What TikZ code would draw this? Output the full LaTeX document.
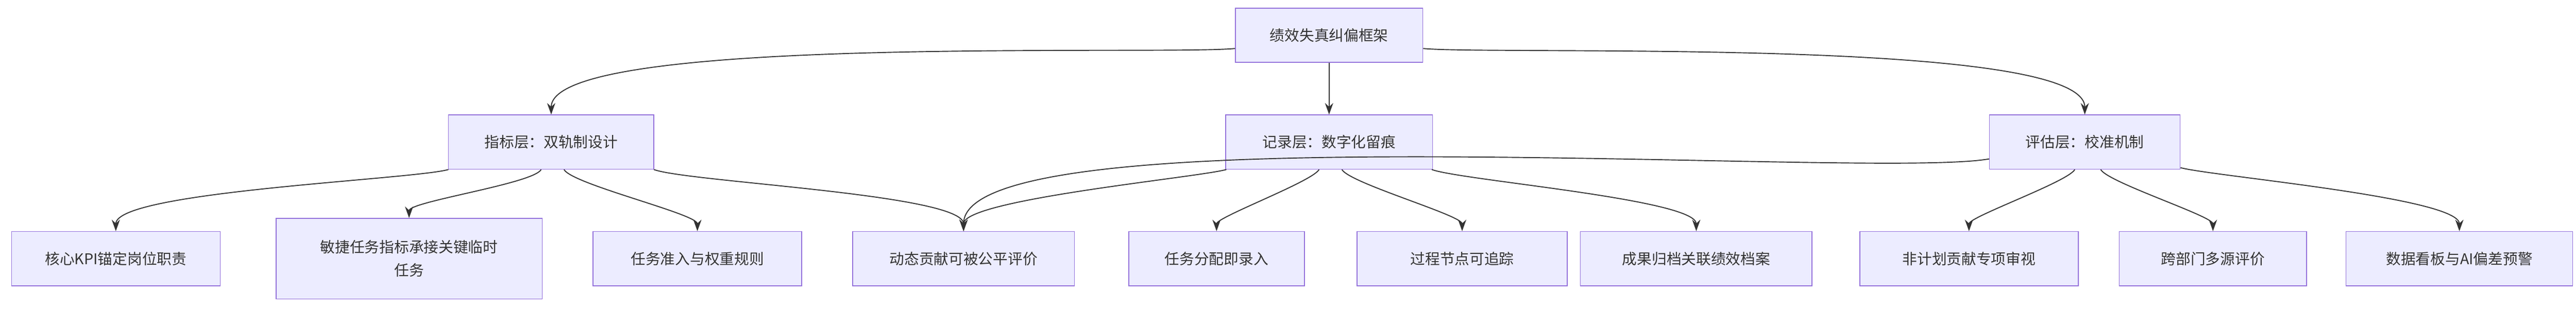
\documentclass[tikz,border=0pt]{standalone}
\usepackage{fontspec}
\setmainfont{Noto Sans CJK SC}
\usetikzlibrary{positioning,arrows.meta}
\definecolor{boxfill}{HTML}{ECECFF}
\definecolor{boxline}{HTML}{9370DB}
\definecolor{ink}{HTML}{333333}

\begin{document}
\begin{tikzpicture}[x=1pt,y=-1pt,
        box/.style={draw=boxline, fill=boxfill, line width=0.5pt, minimum height=33pt, align=center, text=ink, font=\fontsize{9}{14}\selectfont},
        arr/.style={-{Stealth[length=7pt,width=5pt]}, ink, line width=0.6pt}
    ]
    \useasboundingbox (0,0) rectangle (1568,188);

    % top
    \node[box, minimum width=114pt] (top) at (809,21.5) {绩效失真纠偏框架};

    % layers
    \node[box, minimum width=125pt] (zb) at (335.5,86.5) {指标层：双轨制设计};
    \node[box, minimum width=126pt] (jl) at (809,86.5) {记录层：数字化留痕};
    \node[box, minimum width=116pt] (pg) at (1269,86.5) {评估层：校准机制};

    % leaves
    \node[box, minimum width=127pt] (c1) at (70.5,157.5) {核心KPI锚定岗位职责};
    \node[box, minimum width=162pt, minimum height=49pt] (c2) at (249,157.5) {敏捷任务指标承接关键临时\\任务};
    \node[box, minimum width=127pt] (c3) at (424.5,157.5) {任务准入与权重规则};
    \node[box, minimum width=135pt] (c4) at (586.5,157.5) {动态贡献可被公平评价};
    \node[box, minimum width=107pt] (c5) at (740.5,157.5) {任务分配即录入};
    \node[box, minimum width=128pt] (c6) at (890,157.5) {过程节点可追踪};
    \node[box, minimum width=141pt] (c7) at (1032.5,157.5) {成果归档关联绩效档案};
    \node[box, minimum width=133pt] (c8) at (1198.5,157.5) {非计划贡献专项审视};
    \node[box, minimum width=114pt] (c9) at (1347,157.5) {跨部门多源评价};
    \node[box, minimum width=138pt] (c10) at (1497,157.5) {数据看板与AI偏差预警};

    % connectors
    \foreach \p/\a/\o/\c in {top/188/185/zb, top/270/270/jl, top/352/355/pg,
            zb/195/195/c1, zb/250/240/c2, zb/295/300/c3, zb/345/340/c4,
            jl/195/195/c4, jl/250/240/c5, jl/295/300/c6, jl/345/340/c7,
            pg/190/190/c4, pg/250/240/c8, pg/300/300/c9, pg/345/345/c10} {
            \draw[arr] (\p.\a) to[out=\o, in=90, looseness=0.3] (\c.north);
        }

\end{tikzpicture}
\end{document}
